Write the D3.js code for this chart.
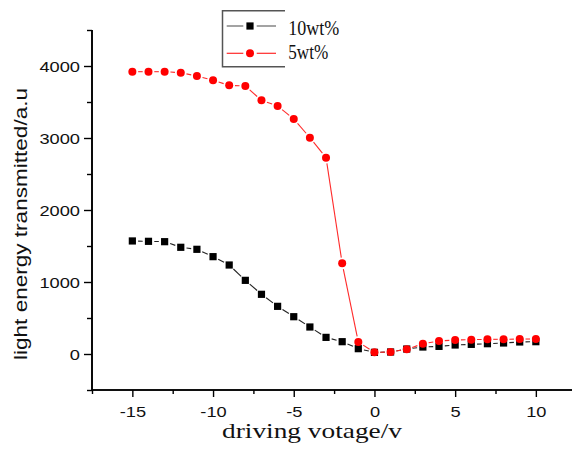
<!DOCTYPE html>
<html>
<head>
<meta charset="utf-8">
<script src="https://cdn.jsdelivr.net/npm/d3@7"></script>
<style>
  html, body { margin: 0; padding: 0; background: #fff; }
  svg { display: block; }
</style>
</head>
<body>
<svg id="chart" width="572" height="449"></svg>
<script>
// Driving voltage (V) applied to the cell
const voltages = [-15, -14, -13, -12, -11, -10, -9, -8, -7, -6, -5, -4, -3, -2, -1,
                  0, 1, 2, 3, 4, 5, 6, 7, 8, 9, 10];

// Transmitted light energy (a.u.) for the two concentrations
const series10wt = [1570, 1565, 1560, 1482, 1454, 1352, 1236, 1023, 829, 662, 518, 375, 231, 171, 74,
                    23, 28, 69, 97, 106, 125, 134, 143, 153, 167, 171];
const series5wt = [3921, 3921, 3921, 3907, 3861, 3801, 3731, 3722, 3523, 3444, 3264, 3005, 2727, 1259, 167,
                   23, 28, 65, 143, 181, 194, 199, 204, 204, 208, 208];

const seriesNames = ["10wt%", "5wt%"];

const xMajorTicks = [-15, -10, -5, 0, 5, 10];
const xMinorTicks = [-17.5, -12.5, -7.5, -2.5, 2.5, 7.5, 12.5];
const yMajorTicks = [0, 1000, 2000, 3000, 4000];
const yMinorTicks = [-500, 500, 1500, 2500, 3500, 4500];

const svg = d3.select("#chart");

const x = d3.scaleLinear().domain([-17.5, 12.5]).range([92, 576.2]);
const y = d3.scaleLinear().domain([-500, 4500]).range([390, 30]);

const sansFont = "'Liberation Sans', Arial, sans-serif";
const serifFont = "'Liberation Serif', 'Times New Roman', serif";
const stretch = 1.26;
const plainNumber = d => String(d); // ASCII hyphen for negatives

// ---- axes ----
const xAxisG = svg.append("g").attr("transform", `translate(0,${y(-500)})`);
xAxisG.append("g").call(d3.axisBottom(x).tickValues(xMinorTicks).tickSize(4).tickFormat(""));
xAxisG.append("g").call(d3.axisBottom(x).tickValues(xMajorTicks).tickSize(7).tickFormat(plainNumber));

const yAxisG = svg.append("g").attr("transform", `translate(${x(-17.5)},0)`);
yAxisG.append("g").call(d3.axisLeft(y).tickValues(yMinorTicks).tickSize(5).tickFormat(""));
yAxisG.append("g").call(d3.axisLeft(y).tickValues(yMajorTicks).tickSize(8).tickFormat(plainNumber));

[xAxisG, yAxisG].forEach(g => {
  g.selectAll(".domain").attr("stroke", "#000").attr("stroke-width", 1.6);
  g.selectAll(".tick line").attr("stroke", "#000").attr("stroke-width", 1.4);
  g.selectAll(".tick text")
    .attr("fill", "#111")
    .style("font-family", sansFont)
    .style("font-size", "14.5px");
});
xAxisG.selectAll(".domain").attr("d", `M${x(-17.5)},0H${x(12.5)}`);
yAxisG.selectAll(".domain").attr("d", `M0,${y(-500)}V${y(4500)}`);

xAxisG.selectAll(".tick text")
  .attr("y", 27.5).attr("dy", 0)
  .attr("transform", `scale(${stretch},1)`);
yAxisG.selectAll(".tick text")
  .attr("x", -12 / stretch)
  .attr("dy", "0.36em")
  .attr("transform", `scale(${stretch},1)`);

// ---- axis titles ----
svg.append("text")
  .attr("transform", "translate(26.5,224) rotate(-90)")
  .attr("text-anchor", "middle")
  .attr("textLength", 272)
  .attr("lengthAdjust", "spacingAndGlyphs")
  .style("font-family", sansFont)
  .style("font-size", "18px")
  .attr("fill", "#111")
  .text("light energy transmitted/a.u");

svg.append("text")
  .attr("x", 222).attr("y", 438)
  .attr("textLength", 180)
  .attr("lengthAdjust", "spacingAndGlyphs")
  .style("font-family", serifFont)
  .style("font-size", "21px")
  .attr("fill", "#111")
  .text("driving votage/v");

// ---- series ----
// Connecting segments stop short of each marker, leaving a small gap around the symbol.
function drawSeries(values, lineColor, drawMarker) {
  const pts = voltages.map((v, i) => [x(v), y(values[i])]);
  const gap = 5.8;
  const g = svg.append("g");
  for (let i = 0; i < pts.length - 1; i++) {
    const [x1, y1] = pts[i], [x2, y2] = pts[i + 1];
    const len = Math.hypot(x2 - x1, y2 - y1);
    if (len <= 2 * gap) continue;
    const ux = (x2 - x1) / len, uy = (y2 - y1) / len;
    g.append("line")
      .attr("x1", x1 + ux * gap).attr("y1", y1 + uy * gap)
      .attr("x2", x2 - ux * gap).attr("y2", y2 - uy * gap)
      .attr("stroke", lineColor).attr("stroke-width", 1.1);
  }
  pts.forEach(p => drawMarker(g, p[0], p[1]));
}

const squareMarker = (g, cx, cy) =>
  g.append("rect").attr("x", cx - 3.6).attr("y", cy - 3.6)
    .attr("width", 7.2).attr("height", 7.2).attr("fill", "#000");
const circleMarker = (g, cx, cy) =>
  g.append("circle").attr("cx", cx).attr("cy", cy).attr("r", 4).attr("fill", "#ff0000");

drawSeries(series10wt, "#222", squareMarker);
drawSeries(series5wt, "#ff2a2a", circleMarker);

// ---- legend ----
const legend = svg.append("g");
legend.append("path")
  .attr("d", "M285,10.8H222.5V66.7H285")
  .attr("fill", "none").attr("stroke", "#555").attr("stroke-width", 1.5);

const legendRows = [
  { name: seriesNames[0], y: 26, line: "#666", marker: squareMarker, width: 51, base: 35 },
  { name: seriesNames[1], y: 53.3, line: "#ff2a2a", marker: circleMarker, width: 40, base: 58.7 }
];
legendRows.forEach(r => {
  legend.append("line").attr("x1", 226.7).attr("x2", 243.3).attr("y1", r.y).attr("y2", r.y)
    .attr("stroke", r.line).attr("stroke-width", 1.2);
  legend.append("line").attr("x1", 256.7).attr("x2", 276).attr("y1", r.y).attr("y2", r.y)
    .attr("stroke", r.line).attr("stroke-width", 1.2);
  r.marker(legend, 250, r.y);
  legend.append("text")
    .attr("x", 288.3).attr("y", r.base)
    .attr("textLength", r.width)
    .attr("lengthAdjust", "spacingAndGlyphs")
    .style("font-family", serifFont)
    .style("font-size", "20px")
    .attr("fill", "#111")
    .text(r.name);
});
</script>
</body>
</html>
